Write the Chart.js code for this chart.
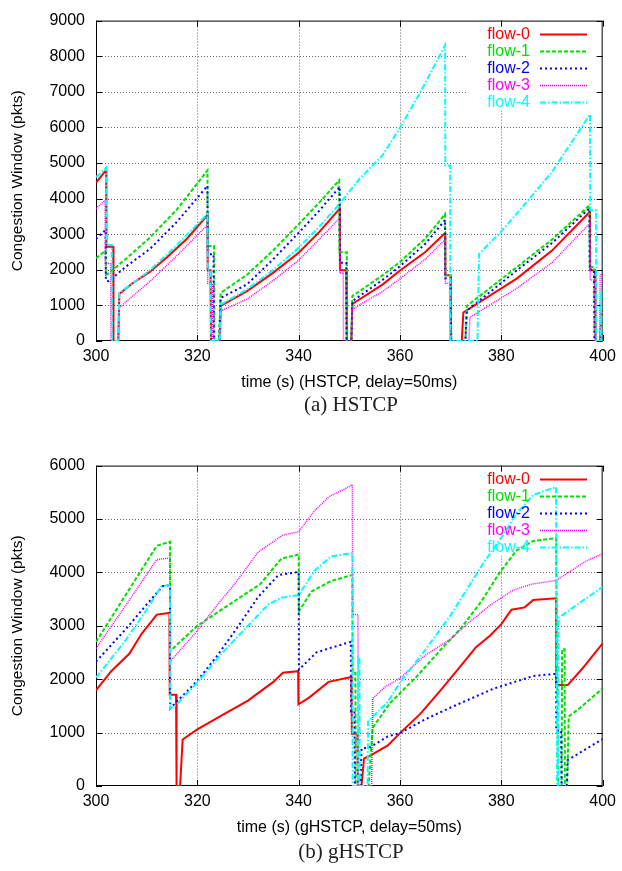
<!DOCTYPE html>
<html>
<head>
<meta charset="utf-8">
<script src="https://cdn.jsdelivr.net/npm/chart.js@4.4.1/dist/chart.umd.min.js"></script>
<style>
  body { margin: 0; background: #fff; width: 622px; height: 871px; position: relative; overflow: hidden; }
  .panel { position: absolute; left: 0; width: 622px; height: 400px; }
  .cap { position: absolute; left: 96px; width: 510px; text-align: center;
         font-family: "Liberation Serif", "DejaVu Serif", serif; font-size: 21px; color: #222; line-height: 24px; }
</style>
</head>
<body>
<div class="panel" style="top:0"><canvas id="hstcp" width="622" height="400"></canvas></div>
<div class="cap" style="top:392px">(a) HSTCP</div>
<div class="panel" style="top:445px"><canvas id="ghstcp" width="622" height="400"></canvas></div>
<div class="cap" style="top:839px">(b) gHSTCP</div>
<script>
// Congestion window traces, [time (s), cwnd (pkts)]
const flowLabels = ['flow-0', 'flow-1', 'flow-2', 'flow-3', 'flow-4'];
const timeTicks = [300, 320, 340, 360, 380, 400];
const hstcpCwndTicks = [0, 1000, 2000, 3000, 4000, 5000, 6000, 7000, 8000, 9000];
const ghstcpCwndTicks = [0, 1000, 2000, 3000, 4000, 5000, 6000];

// HSTCP, delay = 50 ms
const hstcpFlow0 = [[300,4450],[302.0,4800],[302.05,2650],[303.4,2650],[303.45,0],[304.4,0],[304.6,1320],[307,1600],[310.6,1940],[314,2350],[318,2880],[322.0,3540],[322.05,1990],[322.6,1990],[322.7,0],[324.4,0],[324.6,990],[329.8,1400],[335,1920],[340,2480],[344,3050],[348.1,3720],[348.15,1990],[349.4,1990],[349.5,0],[350.4,0],[350.6,1040],[356.6,1590],[360,1980],[365,2500],[368.9,3030],[368.95,1850],[370.0,1850],[370.1,0],[372.2,0],[372.5,800],[383.1,1760],[390,2540],[397.5,3630],[397.55,1990],[398.5,1990],[398.6,0],[399.5,0],[399.8,850],[400,900]];
const hstcpFlow1 = [[300,2325],[301.9,2540],[301.95,1860],[302.5,1900],[306,2320],[310.6,2900],[316,3700],[322.0,4790],[322.05,2670],[323.3,2670],[323.35,0],[324.3,0],[324.6,1350],[329.8,1860],[335,2550],[340,3280],[344,3880],[348.0,4515],[348.05,2490],[349.5,2490],[349.55,0],[350.4,0],[350.6,1260],[356.6,1850],[360,2220],[365,2880],[368.9,3565],[368.95,1850],[370.0,1850],[370.1,0],[372.9,0],[373.2,985],[383.1,2080],[390,2850],[397.4,3810],[397.45,2080],[398.3,2080],[398.4,0],[400,0]];
const hstcpFlow2 = [[300,2870],[301.9,3120],[301.95,1700],[302.5,1680],[306,2100],[310.6,2580],[316,3350],[322.0,4360],[322.05,2440],[323.2,2440],[323.25,0],[324.3,0],[324.6,1210],[329.8,1590],[335,2300],[340,3040],[344,3650],[348.1,4330],[348.15,2200],[349.4,2200],[349.45,0],[350.4,0],[350.6,1120],[356.6,1720],[360,2100],[365,2730],[368.9,3400],[368.95,1760],[370.0,1760],[370.1,0],[372.9,0],[373.2,850],[383.1,1990],[390,2750],[397.4,3730],[397.45,2000],[398.3,2000],[398.4,0],[400,0]];
const hstcpFlow3 = [[300,3720],[301.8,3950],[301.85,2180],[302.9,2180],[302.95,0],[304.4,0],[304.6,940],[310.6,1670],[316,2400],[322.0,3265],[322.05,1620],[323.0,1620],[323.05,0],[324.5,0],[324.7,850],[329.8,1175],[335,1700],[340,2270],[344,2850],[348.1,3450],[348.15,1900],[348.8,1900],[348.85,0],[350.4,0],[350.6,895],[356.6,1395],[360,1750],[365,2300],[368.9,2850],[368.95,1620],[369.8,1620],[369.85,0],[373.6,0],[373.8,665],[383.1,1485],[390,2200],[397.5,3310],[397.55,1715],[398.5,1715],[398.55,0],[399.4,0],[399.5,1850],[400,1900]];
const hstcpFlow4 = [[300,4600],[302.0,4870],[302.05,2700],[303.1,2700],[303.15,0],[304.4,0],[304.6,1350],[310.6,1980],[316,2700],[322.0,3570],[322.05,2000],[322.6,2000],[322.65,0],[324.4,0],[324.6,1020],[329.8,1450],[335,2000],[340,2620],[344,3200],[348.1,3860],[352,4550],[356.6,5225],[360,5990],[364,6980],[368.9,8310],[368.95,4930],[369.9,4930],[369.95,0],[375.3,0],[375.6,2445],[380,3080],[383.1,3585],[390,4750],[397.5,6365],[397.55,3675],[398.7,3675],[398.75,0],[399.6,0],[399.7,1400],[399.8,0],[400,0]];

// gHSTCP, delay = 50 ms
const ghstcpFlow0 = [[300,1790],[303,2150],[306.6,2480],[309,2850],[312.0,3210],[314.5,3240],[314.55,1710],[315.8,1710],[315.9,0],[316.6,0],[317.1,870],[320,1060],[325,1330],[330,1600],[335,1950],[336.9,2120],[339.9,2150],[339.95,1530],[342,1650],[345.9,1950],[350.4,2040],[350.5,980],[351.6,980],[351.7,0],[352.4,0],[352.9,515],[354.2,575],[357.6,760],[360,990],[364,1350],[368,1790],[372,2250],[375,2600],[377.8,2820],[380,3030],[382,3300],[384.6,3345],[386.3,3485],[390.8,3515],[390.85,1890],[393.1,1890],[396,2200],[400,2670]];
const ghstcpFlow1 = [[300,2700],[306,3600],[312.0,4500],[314.6,4575],[314.65,2530],[320,3000],[326,3380],[332.4,3780],[336.6,4260],[340.0,4335],[340.05,3270],[342.5,3640],[346.4,3840],[350.6,3950],[350.65,2120],[351.2,2120],[351.25,0],[353.8,0],[354.6,1090],[358,1550],[363.4,2060],[368,2550],[371.9,2940],[376,3450],[379.7,4000],[383,4410],[386.3,4590],[390.8,4640],[391.2,0],[391.9,0],[392.0,2560],[392.5,2560],[392.55,0],[393.0,0],[393.3,1300],[396,1500],[400,1830]];
const ghstcpFlow2 = [[300,2330],[306,2950],[310,3400],[313.2,3745],[314.6,3760],[314.65,1455],[320,1970],[324,2450],[328,2980],[332,3540],[336,3950],[340.0,4010],[340.05,2180],[343.5,2500],[345.9,2575],[350.3,2700],[350.35,1395],[351.0,1395],[351.1,0],[352.2,0],[352.4,700],[354.2,730],[357.6,930],[360,990],[365,1250],[370,1470],[378.4,1820],[382,1930],[386.3,2060],[390.8,2100],[390.85,1040],[391.8,1040],[391.9,0],[392.9,0],[393.1,485],[400,880]];
const ghstcpFlow3 = [[300,2575],[306,3400],[312.0,4240],[314.6,4270],[314.65,2330],[320,2910],[324,3400],[327.5,3800],[332,4380],[336.9,4700],[340,4760],[343.1,5150],[346,5420],[349,5560],[350.6,5640],[350.65,3210],[351.7,3210],[351.75,0],[354.4,0],[354.6,1640],[357,1850],[360,2020],[365,2450],[370,2750],[373.2,3030],[378,3400],[382.4,3670],[386,3780],[390.8,3850],[396.7,4210],[400,4350]];
const ghstcpFlow4 = [[300,2030],[306,2750],[310,3300],[312.8,3730],[314.6,3770],[314.65,1455],[315.8,1515],[320,1940],[325,2500],[330,3000],[334,3400],[336.6,3525],[340,3575],[343.1,4030],[346.4,4300],[350.6,4360],[350.65,0],[351.7,0],[351.75,2420],[352.0,2420],[352.05,0],[353.6,0],[353.7,1210],[357.6,1575],[360,1940],[365,2550],[370,3200],[376.5,4180],[380,4650],[383,5100],[386.3,5450],[390.8,5600],[391.0,0],[391.25,0],[391.3,3150],[395,3400],[400,3730]];

// Line styles for the five flows
const flowColors = ['#ff0000', '#00e000', '#0000ff', '#ff00ff', '#00ffff'];
const flowDash   = [[], [4, 2], [2, 3], [1, 1], [6, 2, 1.5, 2]];
const flowWidth  = [2, 2, 2, 1.5, 2];

const FONT = '"Liberation Sans", Arial, Helvetica, sans-serif';

// Frame, dotted grid, inward tick marks and the key
const gnuplotLook = {
  id: 'gnuplotLook',
  beforeDatasetsDraw(chart) {
    const { ctx, chartArea: a, scales: { x, y } } = chart;
    const xt = x.ticks.map(t => t.value);
    const yt = y.ticks.map(t => t.value);
    ctx.save();
    // dotted grid
    ctx.strokeStyle = 'rgba(0,0,0,0.6)';
    ctx.lineWidth = 1;
    ctx.setLineDash([1, 2]);
    ctx.beginPath();
    xt.slice(1, -1).forEach(v => {
      const px = Math.round(x.getPixelForValue(v)) + 0.5;
      ctx.moveTo(px, a.top); ctx.lineTo(px, a.bottom);
    });
    yt.slice(1, -1).forEach(v => {
      const py = Math.round(y.getPixelForValue(v)) + 0.5;
      ctx.moveTo(a.left, py); ctx.lineTo(a.right, py);
    });
    ctx.stroke();
    ctx.setLineDash([]);
    // key area
    ctx.fillStyle = '#fff';
    ctx.fillRect(467, a.top + 1, 132, 89);
    // frame
    ctx.strokeStyle = '#000';
    ctx.strokeRect(a.left + 0.5, a.top + 0.5, a.width - 1, a.height - 1);
    // inward ticks on all four sides
    ctx.beginPath();
    xt.forEach(v => {
      const px = Math.round(x.getPixelForValue(v)) + 0.5;
      ctx.moveTo(px, a.bottom); ctx.lineTo(px, a.bottom - 6);
      ctx.moveTo(px, a.top); ctx.lineTo(px, a.top + 6);
    });
    yt.forEach(v => {
      const py = Math.round(y.getPixelForValue(v)) + 0.5;
      ctx.moveTo(a.left, py); ctx.lineTo(a.left + 6, py);
      ctx.moveTo(a.right, py); ctx.lineTo(a.right - 6, py);
    });
    ctx.stroke();
    ctx.restore();
  },
  afterDatasetsDraw(chart) {
    const { ctx, chartArea: a } = chart;
    ctx.save();
    ctx.font = '16px ' + FONT;
    ctx.textAlign = 'right';
    ctx.textBaseline = 'middle';
    flowLabels.forEach((lab, i) => {
      const yy = a.top + 13.5 + i * 17;
      ctx.fillStyle = flowColors[i];
      ctx.fillText(lab, 530, yy);
      ctx.strokeStyle = flowColors[i];
      ctx.lineWidth = flowWidth[i];
      ctx.setLineDash(flowDash[i]);
      ctx.beginPath();
      ctx.moveTo(540, Math.round(yy) + 0.5);
      ctx.lineTo(587, Math.round(yy) + 0.5);
      ctx.stroke();
    });
    ctx.restore();
  }
};

function makeChart(id, flows, yTicks, xTitle) {
  const datasets = flows.map((pts, i) => ({
    label: flowLabels[i],
    data: pts.map(([t, w]) => ({ x: t, y: w })),
    borderColor: flowColors[i],
    borderWidth: flowWidth[i],
    borderDash: flowDash[i],
    borderCapStyle: 'butt',
    pointRadius: 0,
    tension: 0,
    fill: false,
    order: flows.length - 1 - i
  }));
  return new Chart(document.getElementById(id), {
    type: 'line',
    data: { datasets },
    plugins: [gnuplotLook],
    options: {
      responsive: false,
      animation: false,
      events: [],
      layout: { padding: { left: 0, right: 16, top: 12, bottom: 0 } },
      plugins: { legend: { display: false }, tooltip: { enabled: false } },
      scales: {
        x: {
          type: 'linear',
          min: timeTicks[0], max: timeTicks[timeTicks.length - 1],
          afterBuildTicks: s => { s.ticks = timeTicks.map(v => ({ value: v })); },
          grid: { display: false, drawTicks: false },
          border: { display: false },
          ticks: { color: '#000', font: { family: FONT, size: 16 }, padding: 6, maxRotation: 0,
                   callback: v => String(v) },
          title: { display: true, text: xTitle, color: '#000', font: { family: FONT, size: 16 }, padding: { top: 0, bottom: 8 } },
          afterFit: s => { s.height = 59; }
        },
        y: {
          min: yTicks[0], max: yTicks[yTicks.length - 1],
          afterBuildTicks: s => { s.ticks = yTicks.map(v => ({ value: v })); },
          grid: { display: false, drawTicks: false },
          border: { display: false },
          ticks: { color: '#000', font: { family: FONT, size: 16 }, padding: 11,
                   callback: v => String(v) },
          title: { display: true, text: 'Congestion Window (pkts)', color: '#000', font: { family: FONT, size: 15.5 }, padding: { top: 8, bottom: 0 } },
          afterFit: s => { s.width = 96; }
        }
      }
    }
  });
}

makeChart('hstcp', [hstcpFlow0, hstcpFlow1, hstcpFlow2, hstcpFlow3, hstcpFlow4], hstcpCwndTicks, 'time (s) (HSTCP, delay=50ms)');
makeChart('ghstcp', [ghstcpFlow0, ghstcpFlow1, ghstcpFlow2, ghstcpFlow3, ghstcpFlow4], ghstcpCwndTicks, 'time (s) (gHSTCP, delay=50ms)');
</script>
</body>
</html>
